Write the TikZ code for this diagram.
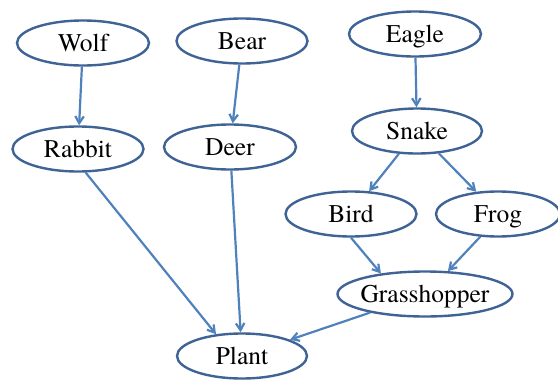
\documentclass[tikz,border=0pt]{standalone}
\usepackage{fontspec}
\newfontfamily\tagfont{texgyretermes-regular.otf}
\usetikzlibrary{shapes.geometric,arrows.meta}
\definecolor{rim}{HTML}{3F6395}
\definecolor{link}{HTML}{4F81BD}
\tikzset{
  animal/.style={ellipse, draw=rim, line width=2.4pt, fill=white, inner sep=0pt,
    minimum height=45pt, text height=17.5pt, text depth=0pt,
    font=\tagfont\fontsize{25.5}{26}\selectfont},
  eats/.style={draw=link, line width=2.2pt,
    -{Straight Barb[length=7pt,width=8.5pt,line width=2.2pt]}}
}
\begin{document}
\begin{tikzpicture}[x=1pt,y=-1pt]
\useasboundingbox (0,0) rectangle (558,381);
% animals and plant
\node[animal, minimum width=132pt] (wolf)  at (83,43)   {Wolf};
\node[animal, minimum width=131pt] (bear)  at (242,41)  {Bear};
\node[animal, minimum width=132pt] (eagle) at (415,34)  {Eagle};
\node[animal, minimum width=131pt] (rabbit) at (78,149) {Rabbit};
\node[animal, minimum width=132pt] (deer)  at (230,147) {Deer};
\node[animal, minimum width=130pt] (snake) at (417,131) {Snake};
\node[animal, minimum width=131pt] (bird)  at (351,214) {Bird};
\node[animal, minimum width=124pt] (frog)  at (498,214) {Frog};
\node[animal, minimum width=175pt, inner xsep=-3pt] (grass) at (425,294) {Grasshopper};
\node[animal, minimum width=130pt] (plant) at (242,356) {Plant};
% who eats whom
\draw[eats] (wolf) -- (rabbit);
\draw[eats] (bear) -- (deer);
\draw[eats] (eagle) -- (snake);
\draw[eats] (snake) -- (bird);
\draw[eats] (snake) -- (frog);
\draw[eats] (bird.south) -- (grass.155);
\draw[eats] (frog.-128) -- (grass.45);
\draw[eats] (grass) -- (plant);
\draw[eats] (rabbit.-72) -- (plant.140);
\draw[eats] (deer) -- (plant);
\end{tikzpicture}
\end{document}
